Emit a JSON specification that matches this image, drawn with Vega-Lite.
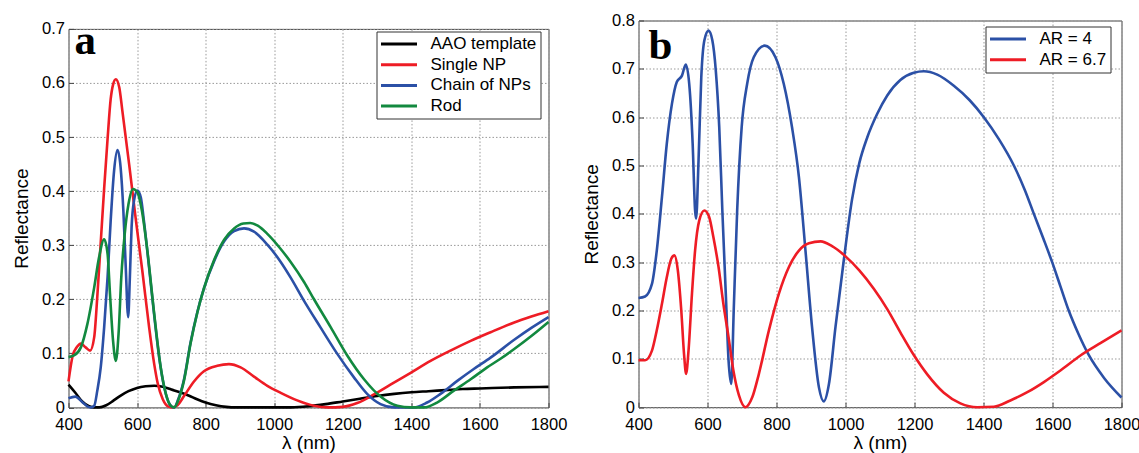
{
  "$schema": "https://vega.github.io/schema/vega-lite/v6.json",
  "padding": {"left": 11.5, "top": 11.5, "right": 0, "bottom": 0},
  "spacing": 14,
  "config": {
    "font": "Liberation Sans",
    "view": {"stroke": "#444", "strokeWidth": 1},
    "axis": {
      "labelFont": "Liberation Sans", "labelFontSize": 16.5, "labelColor": "#000",
      "titleFont": "Liberation Sans", "titleFontSize": 19, "titleFontWeight": "normal", "titleColor": "#000",
      "gridColor": "#999", "gridDash": [1.5, 2], "gridWidth": 1,
      "domain": false, "ticks": true, "tickColor": "#444", "tickSize": -5,
      "labelFlush": false, "labelBound": false, "labelOverlap": false
    },
    "axisX": {"labelPadding": 14, "titlePadding": 1},
    "axisY": {"labelPadding": 9, "titlePadding": 10},
    "legend": {
      "orient": "none", "title": null, "direction": "vertical",
      "symbolType": "M-3.6,0H3.6", "symbolSize": 100, "symbolStrokeWidth": 3, "symbolOffset": 10,
      "labelOffset": 23, "rowPadding": 2.7, "padding": 4,
      "strokeColor": "#333", "fillColor": "#fff",
      "labelFontSize": 17, "labelFont": "Liberation Sans", "labelColor": "#000", "labelLimit": 300
    }
  },
  "resolve": {"scale": {"color": "independent"}, "legend": {"color": "independent"}},
  "datasets": {
    "a": [
      {"series": "AAO template", "lambda": 400, "R": 0.042},
      {"series": "AAO template", "lambda": 420, "R": 0.027},
      {"series": "AAO template", "lambda": 440, "R": 0.011},
      {"series": "AAO template", "lambda": 460, "R": 0.002},
      {"series": "AAO template", "lambda": 475, "R": 0.0},
      {"series": "AAO template", "lambda": 490, "R": 0.0},
      {"series": "AAO template", "lambda": 510, "R": 0.004},
      {"series": "AAO template", "lambda": 530, "R": 0.012},
      {"series": "AAO template", "lambda": 550, "R": 0.021},
      {"series": "AAO template", "lambda": 575, "R": 0.030},
      {"series": "AAO template", "lambda": 600, "R": 0.036},
      {"series": "AAO template", "lambda": 625, "R": 0.039},
      {"series": "AAO template", "lambda": 650, "R": 0.040},
      {"series": "AAO template", "lambda": 675, "R": 0.038},
      {"series": "AAO template", "lambda": 700, "R": 0.033},
      {"series": "AAO template", "lambda": 725, "R": 0.028},
      {"series": "AAO template", "lambda": 750, "R": 0.022},
      {"series": "AAO template", "lambda": 775, "R": 0.015},
      {"series": "AAO template", "lambda": 800, "R": 0.009},
      {"series": "AAO template", "lambda": 830, "R": 0.004},
      {"series": "AAO template", "lambda": 860, "R": 0.001},
      {"series": "AAO template", "lambda": 890, "R": 0.0},
      {"series": "AAO template", "lambda": 1000, "R": 0.0},
      {"series": "AAO template", "lambda": 1050, "R": 0.0},
      {"series": "AAO template", "lambda": 1100, "R": 0.002},
      {"series": "AAO template", "lambda": 1150, "R": 0.006},
      {"series": "AAO template", "lambda": 1200, "R": 0.011},
      {"series": "AAO template", "lambda": 1250, "R": 0.016},
      {"series": "AAO template", "lambda": 1300, "R": 0.021},
      {"series": "AAO template", "lambda": 1350, "R": 0.025},
      {"series": "AAO template", "lambda": 1400, "R": 0.028},
      {"series": "AAO template", "lambda": 1450, "R": 0.030},
      {"series": "AAO template", "lambda": 1500, "R": 0.032},
      {"series": "AAO template", "lambda": 1550, "R": 0.034},
      {"series": "AAO template", "lambda": 1600, "R": 0.035},
      {"series": "AAO template", "lambda": 1700, "R": 0.037},
      {"series": "AAO template", "lambda": 1800, "R": 0.038},
      {"series": "Single NP", "lambda": 400, "R": 0.048},
      {"series": "Single NP", "lambda": 412, "R": 0.095},
      {"series": "Single NP", "lambda": 425, "R": 0.112},
      {"series": "Single NP", "lambda": 436, "R": 0.118},
      {"series": "Single NP", "lambda": 450, "R": 0.111},
      {"series": "Single NP", "lambda": 463, "R": 0.105},
      {"series": "Single NP", "lambda": 475, "R": 0.130},
      {"series": "Single NP", "lambda": 484, "R": 0.205},
      {"series": "Single NP", "lambda": 494, "R": 0.305},
      {"series": "Single NP", "lambda": 504, "R": 0.405},
      {"series": "Single NP", "lambda": 514, "R": 0.497},
      {"series": "Single NP", "lambda": 523, "R": 0.570},
      {"series": "Single NP", "lambda": 530, "R": 0.597},
      {"series": "Single NP", "lambda": 538, "R": 0.607},
      {"series": "Single NP", "lambda": 548, "R": 0.592},
      {"series": "Single NP", "lambda": 557, "R": 0.549},
      {"series": "Single NP", "lambda": 577, "R": 0.449},
      {"series": "Single NP", "lambda": 596, "R": 0.349},
      {"series": "Single NP", "lambda": 616, "R": 0.249},
      {"series": "Single NP", "lambda": 635, "R": 0.149},
      {"series": "Single NP", "lambda": 650, "R": 0.080},
      {"series": "Single NP", "lambda": 660, "R": 0.045},
      {"series": "Single NP", "lambda": 675, "R": 0.015},
      {"series": "Single NP", "lambda": 690, "R": 0.002},
      {"series": "Single NP", "lambda": 703, "R": 0.0},
      {"series": "Single NP", "lambda": 718, "R": 0.004},
      {"series": "Single NP", "lambda": 737, "R": 0.021},
      {"series": "Single NP", "lambda": 766, "R": 0.048},
      {"series": "Single NP", "lambda": 795, "R": 0.067},
      {"series": "Single NP", "lambda": 834, "R": 0.077},
      {"series": "Single NP", "lambda": 868, "R": 0.080},
      {"series": "Single NP", "lambda": 902, "R": 0.074},
      {"series": "Single NP", "lambda": 941, "R": 0.057},
      {"series": "Single NP", "lambda": 980, "R": 0.040},
      {"series": "Single NP", "lambda": 1019, "R": 0.027},
      {"series": "Single NP", "lambda": 1067, "R": 0.013},
      {"series": "Single NP", "lambda": 1116, "R": 0.003},
      {"series": "Single NP", "lambda": 1155, "R": 0.0},
      {"series": "Single NP", "lambda": 1200, "R": 0.001},
      {"series": "Single NP", "lambda": 1242, "R": 0.008},
      {"series": "Single NP", "lambda": 1291, "R": 0.024},
      {"series": "Single NP", "lambda": 1339, "R": 0.042},
      {"series": "Single NP", "lambda": 1398, "R": 0.064},
      {"series": "Single NP", "lambda": 1456, "R": 0.086},
      {"series": "Single NP", "lambda": 1514, "R": 0.105},
      {"series": "Single NP", "lambda": 1573, "R": 0.123},
      {"series": "Single NP", "lambda": 1631, "R": 0.139},
      {"series": "Single NP", "lambda": 1700, "R": 0.157},
      {"series": "Single NP", "lambda": 1750, "R": 0.168},
      {"series": "Single NP", "lambda": 1800, "R": 0.178},
      {"series": "Chain of NPs", "lambda": 400, "R": 0.017},
      {"series": "Chain of NPs", "lambda": 420, "R": 0.020},
      {"series": "Chain of NPs", "lambda": 440, "R": 0.010},
      {"series": "Chain of NPs", "lambda": 455, "R": 0.002},
      {"series": "Chain of NPs", "lambda": 465, "R": 0.0},
      {"series": "Chain of NPs", "lambda": 475, "R": 0.003},
      {"series": "Chain of NPs", "lambda": 484, "R": 0.031},
      {"series": "Chain of NPs", "lambda": 494, "R": 0.074},
      {"series": "Chain of NPs", "lambda": 504, "R": 0.148},
      {"series": "Chain of NPs", "lambda": 514, "R": 0.241},
      {"series": "Chain of NPs", "lambda": 523, "R": 0.345},
      {"series": "Chain of NPs", "lambda": 533, "R": 0.438},
      {"series": "Chain of NPs", "lambda": 543, "R": 0.476},
      {"series": "Chain of NPs", "lambda": 552, "R": 0.444},
      {"series": "Chain of NPs", "lambda": 560, "R": 0.364},
      {"series": "Chain of NPs", "lambda": 567, "R": 0.259},
      {"series": "Chain of NPs", "lambda": 574, "R": 0.167},
      {"series": "Chain of NPs", "lambda": 579, "R": 0.241},
      {"series": "Chain of NPs", "lambda": 584, "R": 0.333},
      {"series": "Chain of NPs", "lambda": 591, "R": 0.382},
      {"series": "Chain of NPs", "lambda": 601, "R": 0.401},
      {"series": "Chain of NPs", "lambda": 611, "R": 0.388},
      {"series": "Chain of NPs", "lambda": 620, "R": 0.345},
      {"series": "Chain of NPs", "lambda": 635, "R": 0.259},
      {"series": "Chain of NPs", "lambda": 650, "R": 0.170},
      {"series": "Chain of NPs", "lambda": 665, "R": 0.090},
      {"series": "Chain of NPs", "lambda": 680, "R": 0.035},
      {"series": "Chain of NPs", "lambda": 695, "R": 0.006},
      {"series": "Chain of NPs", "lambda": 708, "R": 0.0},
      {"series": "Chain of NPs", "lambda": 720, "R": 0.015},
      {"series": "Chain of NPs", "lambda": 737, "R": 0.052},
      {"series": "Chain of NPs", "lambda": 756, "R": 0.120},
      {"series": "Chain of NPs", "lambda": 776, "R": 0.177},
      {"series": "Chain of NPs", "lambda": 795, "R": 0.220},
      {"series": "Chain of NPs", "lambda": 825, "R": 0.271},
      {"series": "Chain of NPs", "lambda": 854, "R": 0.307},
      {"series": "Chain of NPs", "lambda": 883, "R": 0.326},
      {"series": "Chain of NPs", "lambda": 912, "R": 0.331},
      {"series": "Chain of NPs", "lambda": 941, "R": 0.325},
      {"series": "Chain of NPs", "lambda": 980, "R": 0.301},
      {"series": "Chain of NPs", "lambda": 1019, "R": 0.269},
      {"series": "Chain of NPs", "lambda": 1048, "R": 0.240},
      {"series": "Chain of NPs", "lambda": 1087, "R": 0.197},
      {"series": "Chain of NPs", "lambda": 1135, "R": 0.148},
      {"series": "Chain of NPs", "lambda": 1184, "R": 0.099},
      {"series": "Chain of NPs", "lambda": 1232, "R": 0.056},
      {"series": "Chain of NPs", "lambda": 1271, "R": 0.025},
      {"series": "Chain of NPs", "lambda": 1310, "R": 0.006},
      {"series": "Chain of NPs", "lambda": 1349, "R": 0.0},
      {"series": "Chain of NPs", "lambda": 1407, "R": 0.0},
      {"series": "Chain of NPs", "lambda": 1446, "R": 0.009},
      {"series": "Chain of NPs", "lambda": 1485, "R": 0.025},
      {"series": "Chain of NPs", "lambda": 1534, "R": 0.049},
      {"series": "Chain of NPs", "lambda": 1582, "R": 0.071},
      {"series": "Chain of NPs", "lambda": 1631, "R": 0.092},
      {"series": "Chain of NPs", "lambda": 1700, "R": 0.125},
      {"series": "Chain of NPs", "lambda": 1750, "R": 0.147},
      {"series": "Chain of NPs", "lambda": 1800, "R": 0.167},
      {"series": "Rod", "lambda": 400, "R": 0.093},
      {"series": "Rod", "lambda": 416, "R": 0.096},
      {"series": "Rod", "lambda": 436, "R": 0.111},
      {"series": "Rod", "lambda": 455, "R": 0.154},
      {"series": "Rod", "lambda": 475, "R": 0.222},
      {"series": "Rod", "lambda": 489, "R": 0.277},
      {"series": "Rod", "lambda": 504, "R": 0.311},
      {"series": "Rod", "lambda": 514, "R": 0.284},
      {"series": "Rod", "lambda": 521, "R": 0.210},
      {"series": "Rod", "lambda": 530, "R": 0.123},
      {"series": "Rod", "lambda": 538, "R": 0.086},
      {"series": "Rod", "lambda": 546, "R": 0.136},
      {"series": "Rod", "lambda": 554, "R": 0.241},
      {"series": "Rod", "lambda": 564, "R": 0.321},
      {"series": "Rod", "lambda": 575, "R": 0.376},
      {"series": "Rod", "lambda": 588, "R": 0.404},
      {"series": "Rod", "lambda": 601, "R": 0.398},
      {"series": "Rod", "lambda": 614, "R": 0.364},
      {"series": "Rod", "lambda": 630, "R": 0.290},
      {"series": "Rod", "lambda": 650, "R": 0.173},
      {"series": "Rod", "lambda": 669, "R": 0.074},
      {"series": "Rod", "lambda": 684, "R": 0.025},
      {"series": "Rod", "lambda": 697, "R": 0.004},
      {"series": "Rod", "lambda": 708, "R": 0.0},
      {"series": "Rod", "lambda": 720, "R": 0.013},
      {"series": "Rod", "lambda": 737, "R": 0.050},
      {"series": "Rod", "lambda": 756, "R": 0.118},
      {"series": "Rod", "lambda": 776, "R": 0.176},
      {"series": "Rod", "lambda": 795, "R": 0.220},
      {"series": "Rod", "lambda": 825, "R": 0.273},
      {"series": "Rod", "lambda": 854, "R": 0.310},
      {"series": "Rod", "lambda": 883, "R": 0.331},
      {"series": "Rod", "lambda": 910, "R": 0.340},
      {"series": "Rod", "lambda": 930, "R": 0.341},
      {"series": "Rod", "lambda": 952, "R": 0.336},
      {"series": "Rod", "lambda": 980, "R": 0.321},
      {"series": "Rod", "lambda": 1019, "R": 0.293},
      {"series": "Rod", "lambda": 1048, "R": 0.269},
      {"series": "Rod", "lambda": 1087, "R": 0.232},
      {"series": "Rod", "lambda": 1116, "R": 0.200},
      {"series": "Rod", "lambda": 1165, "R": 0.148},
      {"series": "Rod", "lambda": 1213, "R": 0.096},
      {"series": "Rod", "lambda": 1262, "R": 0.052},
      {"series": "Rod", "lambda": 1310, "R": 0.020},
      {"series": "Rod", "lambda": 1359, "R": 0.003},
      {"series": "Rod", "lambda": 1398, "R": 0.0},
      {"series": "Rod", "lambda": 1437, "R": 0.0},
      {"series": "Rod", "lambda": 1475, "R": 0.009},
      {"series": "Rod", "lambda": 1524, "R": 0.031},
      {"series": "Rod", "lambda": 1573, "R": 0.052},
      {"series": "Rod", "lambda": 1621, "R": 0.074},
      {"series": "Rod", "lambda": 1660, "R": 0.090},
      {"series": "Rod", "lambda": 1700, "R": 0.108},
      {"series": "Rod", "lambda": 1750, "R": 0.132},
      {"series": "Rod", "lambda": 1800, "R": 0.158}
    ],
    "b": [
      {"series": "AR = 4", "lambda": 400, "R": 0.226},
      {"series": "AR = 4", "lambda": 419, "R": 0.229},
      {"series": "AR = 4", "lambda": 439, "R": 0.255},
      {"series": "AR = 4", "lambda": 453, "R": 0.324},
      {"series": "AR = 4", "lambda": 468, "R": 0.435},
      {"series": "AR = 4", "lambda": 482, "R": 0.545},
      {"series": "AR = 4", "lambda": 497, "R": 0.628},
      {"series": "AR = 4", "lambda": 511, "R": 0.673},
      {"series": "AR = 4", "lambda": 526, "R": 0.686},
      {"series": "AR = 4", "lambda": 537, "R": 0.709},
      {"series": "AR = 4", "lambda": 547, "R": 0.669},
      {"series": "AR = 4", "lambda": 557, "R": 0.545},
      {"series": "AR = 4", "lambda": 564, "R": 0.407},
      {"series": "AR = 4", "lambda": 567, "R": 0.390},
      {"series": "AR = 4", "lambda": 574, "R": 0.510},
      {"series": "AR = 4", "lambda": 582, "R": 0.683},
      {"series": "AR = 4", "lambda": 591, "R": 0.759},
      {"series": "AR = 4", "lambda": 603, "R": 0.779},
      {"series": "AR = 4", "lambda": 614, "R": 0.759},
      {"series": "AR = 4", "lambda": 624, "R": 0.697},
      {"series": "AR = 4", "lambda": 634, "R": 0.580},
      {"series": "AR = 4", "lambda": 643, "R": 0.407},
      {"series": "AR = 4", "lambda": 653, "R": 0.235},
      {"series": "AR = 4", "lambda": 661, "R": 0.097},
      {"series": "AR = 4", "lambda": 669, "R": 0.048},
      {"series": "AR = 4", "lambda": 676, "R": 0.200},
      {"series": "AR = 4", "lambda": 686, "R": 0.407},
      {"series": "AR = 4", "lambda": 699, "R": 0.579},
      {"series": "AR = 4", "lambda": 715, "R": 0.669},
      {"series": "AR = 4", "lambda": 734, "R": 0.724},
      {"series": "AR = 4", "lambda": 766, "R": 0.748},
      {"series": "AR = 4", "lambda": 797, "R": 0.724},
      {"series": "AR = 4", "lambda": 821, "R": 0.669},
      {"series": "AR = 4", "lambda": 845, "R": 0.579},
      {"series": "AR = 4", "lambda": 865, "R": 0.476},
      {"series": "AR = 4", "lambda": 884, "R": 0.324},
      {"series": "AR = 4", "lambda": 903, "R": 0.166},
      {"series": "AR = 4", "lambda": 923, "R": 0.041},
      {"series": "AR = 4", "lambda": 937, "R": 0.012},
      {"series": "AR = 4", "lambda": 952, "R": 0.048},
      {"series": "AR = 4", "lambda": 971, "R": 0.166},
      {"series": "AR = 4", "lambda": 995, "R": 0.304},
      {"series": "AR = 4", "lambda": 1019, "R": 0.430},
      {"series": "AR = 4", "lambda": 1040, "R": 0.505},
      {"series": "AR = 4", "lambda": 1063, "R": 0.558},
      {"series": "AR = 4", "lambda": 1092, "R": 0.607},
      {"series": "AR = 4", "lambda": 1121, "R": 0.645},
      {"series": "AR = 4", "lambda": 1159, "R": 0.677},
      {"series": "AR = 4", "lambda": 1198, "R": 0.692},
      {"series": "AR = 4", "lambda": 1227, "R": 0.695},
      {"series": "AR = 4", "lambda": 1266, "R": 0.688},
      {"series": "AR = 4", "lambda": 1314, "R": 0.665},
      {"series": "AR = 4", "lambda": 1360, "R": 0.635},
      {"series": "AR = 4", "lambda": 1401, "R": 0.600},
      {"series": "AR = 4", "lambda": 1445, "R": 0.554},
      {"series": "AR = 4", "lambda": 1488, "R": 0.500},
      {"series": "AR = 4", "lambda": 1520, "R": 0.449},
      {"series": "AR = 4", "lambda": 1546, "R": 0.400},
      {"series": "AR = 4", "lambda": 1574, "R": 0.348},
      {"series": "AR = 4", "lambda": 1599, "R": 0.300},
      {"series": "AR = 4", "lambda": 1623, "R": 0.250},
      {"series": "AR = 4", "lambda": 1647, "R": 0.200},
      {"series": "AR = 4", "lambda": 1675, "R": 0.152},
      {"series": "AR = 4", "lambda": 1705, "R": 0.108},
      {"series": "AR = 4", "lambda": 1750, "R": 0.060},
      {"series": "AR = 4", "lambda": 1800, "R": 0.020},
      {"series": "AR = 6.7", "lambda": 400, "R": 0.097},
      {"series": "AR = 6.7", "lambda": 419, "R": 0.097},
      {"series": "AR = 6.7", "lambda": 439, "R": 0.117},
      {"series": "AR = 6.7", "lambda": 453, "R": 0.159},
      {"series": "AR = 6.7", "lambda": 468, "R": 0.214},
      {"series": "AR = 6.7", "lambda": 482, "R": 0.269},
      {"series": "AR = 6.7", "lambda": 495, "R": 0.307},
      {"series": "AR = 6.7", "lambda": 504, "R": 0.314},
      {"series": "AR = 6.7", "lambda": 514, "R": 0.283},
      {"series": "AR = 6.7", "lambda": 524, "R": 0.200},
      {"series": "AR = 6.7", "lambda": 532, "R": 0.110},
      {"series": "AR = 6.7", "lambda": 538, "R": 0.069},
      {"series": "AR = 6.7", "lambda": 545, "R": 0.117},
      {"series": "AR = 6.7", "lambda": 555, "R": 0.235},
      {"series": "AR = 6.7", "lambda": 564, "R": 0.324},
      {"series": "AR = 6.7", "lambda": 576, "R": 0.386},
      {"series": "AR = 6.7", "lambda": 591, "R": 0.407},
      {"series": "AR = 6.7", "lambda": 605, "R": 0.393},
      {"series": "AR = 6.7", "lambda": 617, "R": 0.352},
      {"series": "AR = 6.7", "lambda": 632, "R": 0.290},
      {"series": "AR = 6.7", "lambda": 646, "R": 0.214},
      {"series": "AR = 6.7", "lambda": 661, "R": 0.145},
      {"series": "AR = 6.7", "lambda": 675, "R": 0.076},
      {"series": "AR = 6.7", "lambda": 691, "R": 0.025},
      {"series": "AR = 6.7", "lambda": 710, "R": 0.0},
      {"series": "AR = 6.7", "lambda": 730, "R": 0.021},
      {"series": "AR = 6.7", "lambda": 749, "R": 0.069},
      {"series": "AR = 6.7", "lambda": 778, "R": 0.159},
      {"series": "AR = 6.7", "lambda": 807, "R": 0.235},
      {"series": "AR = 6.7", "lambda": 836, "R": 0.290},
      {"series": "AR = 6.7", "lambda": 865, "R": 0.324},
      {"series": "AR = 6.7", "lambda": 894, "R": 0.339},
      {"series": "AR = 6.7", "lambda": 928, "R": 0.343},
      {"series": "AR = 6.7", "lambda": 961, "R": 0.333},
      {"series": "AR = 6.7", "lambda": 1000, "R": 0.312},
      {"series": "AR = 6.7", "lambda": 1040, "R": 0.283},
      {"series": "AR = 6.7", "lambda": 1082, "R": 0.245},
      {"series": "AR = 6.7", "lambda": 1121, "R": 0.203},
      {"series": "AR = 6.7", "lambda": 1159, "R": 0.155},
      {"series": "AR = 6.7", "lambda": 1198, "R": 0.108},
      {"series": "AR = 6.7", "lambda": 1237, "R": 0.068},
      {"series": "AR = 6.7", "lambda": 1285, "R": 0.030},
      {"series": "AR = 6.7", "lambda": 1333, "R": 0.008},
      {"series": "AR = 6.7", "lambda": 1382, "R": 0.0},
      {"series": "AR = 6.7", "lambda": 1430, "R": 0.001},
      {"series": "AR = 6.7", "lambda": 1478, "R": 0.014},
      {"series": "AR = 6.7", "lambda": 1527, "R": 0.031},
      {"series": "AR = 6.7", "lambda": 1575, "R": 0.052},
      {"series": "AR = 6.7", "lambda": 1623, "R": 0.076},
      {"series": "AR = 6.7", "lambda": 1681, "R": 0.107},
      {"series": "AR = 6.7", "lambda": 1740, "R": 0.133},
      {"series": "AR = 6.7", "lambda": 1800, "R": 0.159}
    ]
  },
  "hconcat": [
    {
      "spacing": -2.6,
      "vconcat": [
        {
          "width": 480,
          "height": 1,
          "view": {"stroke": null},
          "data": {"values": []},
          "mark": "point"
        },
        {
          "width": 480,
          "height": 378.5,
          "encoding": {
            "x": {"field": "lambda", "type": "quantitative",
                  "scale": {"domain": [400, 1800], "nice": false, "zero": false},
                  "axis": {"title": "λ (nm)", "values": [400, 600, 800, 1000, 1200, 1400, 1600, 1800], "format": "d"}},
            "y": {"field": "R", "type": "quantitative",
                  "scale": {"domain": [0, 0.7], "nice": false},
                  "axis": {"title": "Reflectance", "values": [0, 0.1, 0.2, 0.3, 0.4, 0.5, 0.6, 0.7],
                           "labelExpr": "datum.value == 0 ? '0' : format(datum.value, '.1f')"}}
          },
          "layer": [
            {
              "data": {"name": "a"},
              "mark": {"type": "line", "strokeWidth": 2.6, "interpolate": "monotone"},
              "encoding": {
                "color": {"field": "series", "type": "nominal",
                          "scale": {"domain": ["AAO template", "Single NP", "Chain of NPs", "Rod"],
                                    "range": ["#000000", "#ee1c25", "#2b50a6", "#12893f"]},
                          "legend": {"legendX": 308, "legendY": 11}}
              }
            },
            {
              "data": {"values": [{"lambda": 400, "R": 0.7, "label": "a"}]},
              "mark": {"type": "text", "font": "Liberation Serif", "fontWeight": "bold", "fontSize": 43,
                       "align": "left", "baseline": "alphabetic", "dx": 6, "dy": 25, "color": "#000"},
              "encoding": {"text": {"field": "label"}}
            }
          ]
        }
      ]
    },
    {
      "width": 483,
      "height": 386.7,
      "encoding": {
        "x": {"field": "lambda", "type": "quantitative",
              "scale": {"domain": [400, 1800], "nice": false, "zero": false},
              "axis": {"title": "λ (nm)", "values": [400, 600, 800, 1000, 1200, 1400, 1600, 1800], "format": "d"}},
        "y": {"field": "R", "type": "quantitative",
              "scale": {"domain": [0, 0.8], "nice": false},
              "axis": {"title": "Reflectance", "values": [0, 0.1, 0.2, 0.3, 0.4, 0.5, 0.6, 0.7, 0.8],
                       "labelExpr": "datum.value == 0 ? '0' : format(datum.value, '.1f')"}}
      },
      "layer": [
        {
          "data": {"name": "b"},
          "mark": {"type": "line", "strokeWidth": 2.6, "interpolate": "monotone"},
          "encoding": {
            "color": {"field": "series", "type": "nominal",
                      "scale": {"domain": ["AR = 4", "AR = 6.7"], "range": ["#2b50a6", "#ee1c25"]},
                      "legend": {"legendX": 347, "legendY": 6}}
          }
        },
        {
          "data": {"values": [{"lambda": 400, "R": 0.8, "label": "b"}]},
          "mark": {"type": "text", "font": "Liberation Serif", "fontWeight": "bold", "fontSize": 43,
                   "align": "left", "baseline": "alphabetic", "dx": 10, "dy": 38, "color": "#000"},
          "encoding": {"text": {"field": "label"}}
        }
      ]
    }
  ]
}
